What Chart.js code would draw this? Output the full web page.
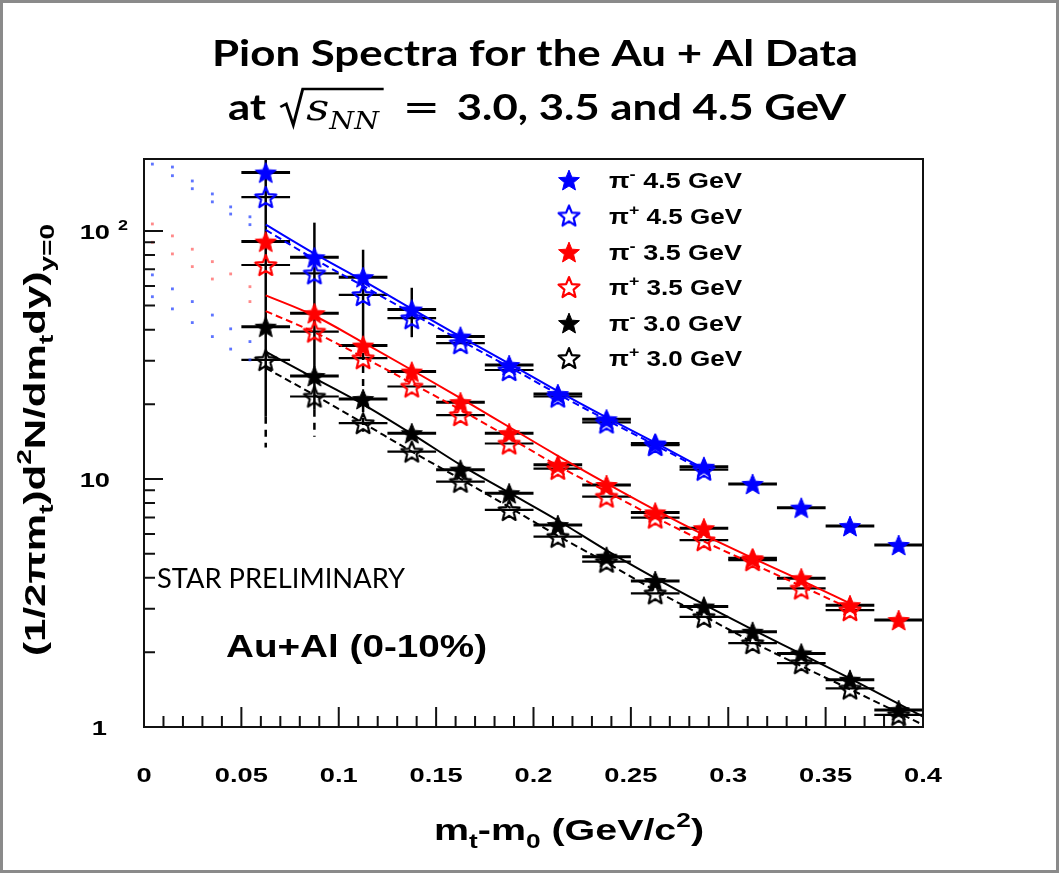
<!DOCTYPE html>
<html lang="en">
<head>
<meta charset="UTF-8">
<title>Pion Spectra for the Au + Al Data</title>
<script src="https://cdn.jsdelivr.net/npm/chart.js"></script>
<style>
  html, body { margin: 0; padding: 0; background: #fff; }
  canvas { display: block; }
</style>
</head>
<body>
<canvas id="spectra" width="1060" height="879"></canvas>
<script>
// m_t - m_0 bin centres (GeV/c^2) and half bin width
const mtX = [0.0625, 0.0875, 0.1125, 0.1375, 0.1625, 0.1875, 0.2125, 0.2375, 0.2625, 0.2875, 0.3125, 0.3375, 0.3625, 0.3875];
const binHalfWidth = 0.0125;

const piMinus45 = [172, 78.3, 65.1, 48.2, 37.5, 28.8, 22.0, 17.4, 13.9, 11.2, 9.55, 7.66, 6.46, 5.42];
const piPlus45  = [137, 67.5, 55.2, 44.5, 35.3, 27.5, 21.5, 16.9, 13.7, 10.9];
const piMinus35 = [90.6, 46.6, 34.5, 27.1, 20.4, 15.3, 11.4, 9.46, 7.33, 6.33, 4.79, 3.98, 3.10, 2.70];
const piPlus35  = [72.9, 39.3, 30.7, 23.6, 18.1, 13.9, 11.0, 8.49, 6.99, 5.67, 4.71, 3.62, 2.96];
const piMinus30 = [41.1, 26.0, 21.0, 15.3, 10.9, 8.76, 6.52, 4.86, 3.88, 3.06, 2.42, 1.98, 1.55, 1.17];
const piPlus30  = [30.2, 21.5, 16.8, 12.9, 9.75, 7.50, 5.85, 4.64, 3.46, 2.78, 2.18, 1.81, 1.43, 1.12];

// fit curves (solid = pi-, dashed = pi+)
const fitX = [0.0625, 0.0875, 0.1125, 0.1375, 0.1625, 0.1875, 0.2125, 0.2375, 0.2625, 0.2875, 0.3125, 0.3375, 0.3625, 0.3875, 0.4];
const fitMinus45 = [106, 81, 63, 48.5, 37.5, 29.2, 22.6, 17.7, 14.0, 11.0];
const fitPlus45  = [101, 77, 60, 46.5, 36.2, 28.3, 22.0, 17.3, 13.7, 10.8];
const fitMinus35 = [55, 45.5, 35.5, 27.5, 21.2, 16.2, 12.4, 9.6, 7.5, 5.95, 4.8, 3.9, 3.15];
const fitPlus35  = [47.5, 39, 31, 24.3, 19.0, 14.7, 11.3, 8.9, 7.0, 5.6, 4.55, 3.7, 3.0];
const fitMinus30 = [32.6, 25.5, 20, 15.2, 11.4, 8.8, 6.8, 5.15, 3.98, 3.12, 2.47, 1.97, 1.57, 1.24, 1.1];
const fitPlus30  = [28, 21.8, 16.8, 12.9, 10.0, 7.7, 5.9, 4.6, 3.55, 2.8, 2.2, 1.76, 1.42, 1.14, 1.02];

// dotted extrapolations below the fit range
const dotX = [0.0043, 0.0146, 0.0248, 0.0351, 0.0445, 0.0544];
const dotBlueA = [null, 181, 159, 141, 125, 114];
const dotBlueB = [186, 167, 148, 131, 117, 106];
const dotBlueC = [66.5, 58.4, 51.9, 45.8, 40.3, 35.8];
const dotBlueD = [54.3, 48.5, 42.7, 37.5, 33.4, 30.2];
const dotRedE  = [106.7, 95.5, 84.4, 75.2, 67.1, 59.6];
const dotRedF  = [90.0, 80.8, 71.8, 64.0, null, 51.9];

// big vertical error bars at low m_t (solid part, then dashed part)
const errX = [0.0625, 0.0875, 0.1125, 0.1375];
const errHigh = [193, 108, 84, 59];
const errSolidLow = [17.8, 19.0, 36.3, 37.3];
const errDashLow = [13.4, 14.8, 15.5, 37.3];

// axes
const xMajorTicks = [0, 0.05, 0.1, 0.15, 0.2, 0.25, 0.3, 0.35, 0.4];
const xTickLabels = ['0', '0.05', '0.1', '0.15', '0.2', '0.25', '0.3', '0.35', '0.4'];
const xMinorStep = 0.01;
const yMajorTicks = [1, 10, 100];
const yTickLabels = ['1', '10', '10'];
const yTickExponents = ['', '', '2'];
const yMinorTicks = [2, 3, 4, 5, 6, 7, 8, 9, 20, 30, 40, 50, 60, 70, 80, 90];

const legendCharge = ['-', '+', '-', '+', '-', '+'];
const legendEnergy = ['4.5 GeV', '4.5 GeV', '3.5 GeV', '3.5 GeV', '3.0 GeV', '3.0 GeV'];

const BLUE = '#0000ff', RED = '#ff0000', BLACK = '#000000';

const series = [
  { values: piMinus45, color: BLUE,  filled: true  },
  { values: piPlus45,  color: BLUE,  filled: false },
  { values: piMinus35, color: RED,   filled: true  },
  { values: piPlus35,  color: RED,   filled: false },
  { values: piMinus30, color: BLACK, filled: true  },
  { values: piPlus30,  color: BLACK, filled: false }
];
const fits = [
  { values: fitMinus45, color: BLUE,  dash: false },
  { values: fitPlus45,  color: BLUE,  dash: true  },
  { values: fitMinus35, color: RED,   dash: false },
  { values: fitPlus35,  color: RED,   dash: true  },
  { values: fitMinus30, color: BLACK, dash: false },
  { values: fitPlus30,  color: BLACK, dash: true  }
];
const dots = [
  { values: dotBlueA, color: 'rgba(40,70,255,0.75)' },
  { values: dotBlueB, color: 'rgba(40,70,255,0.75)' },
  { values: dotBlueC, color: 'rgba(40,70,255,0.75)' },
  { values: dotBlueD, color: 'rgba(40,70,255,0.75)' },
  { values: dotRedE,  color: 'rgba(255,60,60,0.6)' },
  { values: dotRedF,  color: 'rgba(255,60,60,0.6)' }
];

function starCanvas(color, filled, r) {
  const s = Math.ceil(r * 2 + 4);
  const c = document.createElement('canvas');
  c.width = s; c.height = s;
  const g = c.getContext('2d');
  g.translate(s / 2, s / 2 + r * 0.1);
  g.beginPath();
  for (let i = 0; i < 10; i++) {
    const rr = i % 2 ? r * 0.44 : r;
    const a = -Math.PI / 2 + i * Math.PI / 5;
    g.lineTo(rr * Math.cos(a), rr * Math.sin(a));
  }
  g.closePath();
  if (filled) { g.fillStyle = color; g.fill(); g.strokeStyle = color; g.lineWidth = 1; g.stroke(); }
  else { g.strokeStyle = color; g.lineWidth = 2.2; g.lineJoin = 'round'; g.stroke(); }
  return c;
}
series.forEach(s => { s.star = starCanvas(s.color, s.filled, 11); });

// rich text: parts drawn one after another, optionally squeezed/stretched to a width
function richWidth(ctx, parts) {
  let w = 0;
  parts.forEach(p => {
    if (p.gap) { w += p.gap; return; }
    ctx.font = p.font;
    w += ctx.measureText(p.t).width;
  });
  return w;
}
function drawRich(ctx, parts, x, y, align, targetW) {
  const w = richWidth(ctx, parts);
  const sx = targetW ? targetW / w : 1;
  ctx.save();
  ctx.translate(x, y);
  ctx.scale(sx, 1);
  let cx = align === 'center' ? -w / 2 : (align === 'right' ? -w : 0);
  ctx.textAlign = 'left';
  ctx.textBaseline = 'alphabetic';
  parts.forEach(p => {
    if (p.gap) { cx += p.gap; return; }
    ctx.font = p.font;
    ctx.fillText(p.t, cx, p.dy || 0);
    cx += ctx.measureText(p.t).width;
  });
  ctx.restore();
}

const ROOT = '"Liberation Sans", Arial, sans-serif';

function drawTitle(ctx) {
  ctx.fillStyle = '#000';
  drawRich(ctx, [{ t: 'Pion Spectra for the Au + Al Data', font: 'bold 37px Lato' }], 535, 66, 'center', 646);

  const F = 'bold 37px Lato';
  const M = 'italic 38px "DejaVu Serif"';
  const MS = 'italic 24px "DejaVu Serif"';
  const EQ = '38px "DejaVu Serif"';
  const parts = [
    { t: 'at', font: F }, { gap: 12 }, { gap: 22 }, { t: 's', font: M }, { t: 'NN', font: MS, dy: 9 },
    { gap: 20 }, { t: '=', font: EQ }, { gap: 14 }, { t: '3.0, 3.5 and 4.5 GeV', font: F }
  ];
  const w = richWidth(ctx, parts);
  const sx = 618 / w;
  const base = 120;
  ctx.save();
  ctx.translate(228, base);
  ctx.scale(sx, 1);
  let cx = 0, radStart = 0, radEnd = 0;
  parts.forEach((p, i) => {
    if (p.gap) {
      if (i === 2) radStart = cx;
      cx += p.gap; return;
    }
    ctx.font = p.font;
    ctx.fillText(p.t, cx, p.dy || 0);
    cx += ctx.measureText(p.t).width;
    if (p.t === 'NN') radEnd = cx + 4;
  });
  ctx.strokeStyle = '#000';
  ctx.lineWidth = 2.5;
  ctx.lineJoin = 'miter';
  ctx.beginPath();
  ctx.moveTo(radStart, -13);
  ctx.lineTo(radStart + 5, -16);
  ctx.lineTo(radStart + 11, 5);
  ctx.lineTo(radStart + 19, -31);
  ctx.lineTo(radEnd, -31);
  ctx.stroke();
  ctx.restore();
}

const decor = {
  id: 'decor',
  beforeDraw(chart) {
    const ctx = chart.ctx;
    ctx.save();
    ctx.fillStyle = '#fff';
    ctx.fillRect(0, 0, chart.width, chart.height);
    ctx.strokeStyle = '#8a8a8a';
    ctx.lineWidth = 3;
    ctx.strokeRect(1.5, 1.5, chart.width - 4, 870);
    ctx.restore();
  },
  beforeDatasetsDraw(chart) {
    const { ctx, chartArea: a, scales: { x, y } } = chart;
    ctx.save();
    ctx.beginPath();
    ctx.rect(a.left, a.top, a.right - a.left, a.bottom - a.top);
    ctx.clip();
    ctx.strokeStyle = '#000';
    ctx.lineWidth = 2.5;
    errX.forEach((v, i) => {
      const px = x.getPixelForValue(v);
      ctx.setLineDash([]);
      ctx.beginPath();
      ctx.moveTo(px, y.getPixelForValue(errHigh[i]));
      ctx.lineTo(px, y.getPixelForValue(errSolidLow[i]));
      ctx.stroke();
      ctx.setLineDash([7, 6]);
      ctx.beginPath();
      ctx.moveTo(px, y.getPixelForValue(errSolidLow[i]));
      ctx.lineTo(px, y.getPixelForValue(errDashLow[i]));
      ctx.stroke();
    });
    ctx.setLineDash([]);
    series.forEach(s => {
      ctx.lineWidth = s.filled ? 3 : 2.2;
      s.values.forEach((v, i) => {
        const py = y.getPixelForValue(v);
        ctx.beginPath();
        ctx.moveTo(x.getPixelForValue(mtX[i] - binHalfWidth), py);
        ctx.lineTo(x.getPixelForValue(mtX[i] + binHalfWidth), py);
        ctx.stroke();
      });
    });
    ctx.restore();
  },
  afterDatasetsDraw(chart) {
    const { ctx, chartArea: a, scales: { x, y } } = chart;
    ctx.save();
    ctx.strokeStyle = '#111';
    ctx.fillStyle = '#000';
    ctx.lineWidth = 2;
    ctx.strokeRect(a.left, a.top, a.right - a.left, a.bottom - a.top);

    // inward ticks
    ctx.beginPath();
    xMajorTicks.forEach(v => {
      const px = x.getPixelForValue(v);
      ctx.moveTo(px, a.bottom); ctx.lineTo(px, a.bottom - 20);
    });
    for (let k = 1; k * xMinorStep < 0.4 - 1e-9; k++) {
      if (k % 5 === 0) continue;
      const px = x.getPixelForValue(k * xMinorStep);
      ctx.moveTo(px, a.bottom); ctx.lineTo(px, a.bottom - 11);
    }
    yMajorTicks.forEach(v => {
      const py = y.getPixelForValue(v);
      ctx.moveTo(a.left, py); ctx.lineTo(a.left + 19, py);
    });
    yMinorTicks.forEach(v => {
      const py = y.getPixelForValue(v);
      ctx.moveTo(a.left, py); ctx.lineTo(a.left + 11, py);
    });
    ctx.stroke();

    // tick labels
    const TF = 'bold 21px ' + ROOT;
    xMajorTicks.forEach((v, i) => {
      ctx.font = TF;
      const w = ctx.measureText(xTickLabels[i]).width;
      drawRich(ctx, [{ t: xTickLabels[i], font: TF }], x.getPixelForValue(v), 782, 'center', w * 1.3);
    });
    yMajorTicks.forEach((v, i) => {
      const py = y.getPixelForValue(v) + 8;
      ctx.font = TF;
      const w = ctx.measureText(yTickLabels[i]).width * 1.3;
      const right = yTickLabels[i] === '1' ? 107 : 110;
      drawRich(ctx, [{ t: yTickLabels[i], font: TF }], right - w, py, 'left', w);
      if (yTickExponents[i]) {
        drawRich(ctx, [{ t: yTickExponents[i], font: 'bold 15px ' + ROOT }], 118, py - 9, 'left', 10);
      }
    });

    // axis titles
    const AF = 'bold 30px ' + ROOT, AS = 'bold 20px ' + ROOT;
    drawRich(ctx, [
      { t: 'm', font: AF }, { t: 't', font: AS, dy: 8 }, { t: '-m', font: AF }, { t: '0', font: AS, dy: 8 },
      { t: ' (GeV/c', font: AF }, { t: '2', font: AS, dy: -13 }, { t: ')', font: AF }
    ], 569, 840, 'center', 270);

    ctx.save();
    ctx.translate(45, 440);
    ctx.rotate(-Math.PI / 2);
    const YF = 'bold 30px ' + ROOT, YS = 'bold 20px ' + ROOT;
    drawRich(ctx, [
      { t: '(1/2\u03c0m', font: YF }, { t: 't', font: YS, dy: 8 }, { t: ')d', font: YF }, { t: '2', font: YS, dy: -14 },
      { t: 'N/dm', font: YF }, { t: 't', font: YS, dy: 8 }, { t: 'dy)', font: YF }, { t: 'y=0', font: YS, dy: 9 }
    ], 0, 0, 'center', 432);
    ctx.restore();

    // legend
    const LF = 'bold 22px ' + ROOT, LS = 'bold 15px ' + ROOT;
    const rowY = [180, 215.5, 252, 287, 323, 358];
    series.forEach((s, i) => {
      ctx.drawImage(s.star, 569 - s.star.width / 2, rowY[i] - s.star.height / 2);
      const parts = [{ t: '\u03c0', font: LF }, { t: legendCharge[i], font: LS, dy: -9 }, { t: ' ' + legendEnergy[i], font: LF }];
      drawRich(ctx, parts, 609, rowY[i] + 8, 'left', 133);
    });

    // annotations
    drawRich(ctx, [{ t: 'STAR PRELIMINARY', font: '27px Lato' }], 157, 588, 'left', 248);
    drawRich(ctx, [{ t: 'Au+Al (0-10%)', font: 'bold 32px ' + ROOT }], 226, 657, 'left', 261);
    ctx.restore();
  },
  afterDraw(chart) {
    const ctx = chart.ctx;
    ctx.save();
    drawTitle(ctx);
    ctx.restore();
  }
};

const datasets = [];
series.forEach(s => datasets.push({
  data: s.values.map((v, i) => ({ x: mtX[i], y: v })),
  showLine: false,
  pointStyle: s.star,
  pointRadius: 11,
  order: 0
}));
fits.forEach(f => datasets.push({
  data: f.values.map((v, i) => ({ x: fitX[i], y: v })),
  showLine: true,
  borderColor: f.color,
  borderWidth: 2,
  borderDash: f.dash ? [7, 4] : [],
  pointRadius: 0,
  cubicInterpolationMode: 'monotone',
  fill: false,
  order: 1
}));
dots.forEach(d => datasets.push({
  data: d.values.map((v, i) => ({ x: dotX[i], y: v })),
  showLine: false,
  pointStyle: 'rect',
  pointRadius: 2,
  backgroundColor: d.color,
  borderWidth: 0,
  order: 2
}));

new Chart(document.getElementById('spectra'), {
  type: 'scatter',
  data: { datasets: datasets },
  options: {
    responsive: false,
    animation: false,
    devicePixelRatio: 1,
    layout: { padding: { left: 144, right: 137, top: 159, bottom: 152 } },
    plugins: { legend: { display: false }, tooltip: { enabled: false } },
    scales: {
      x: { type: 'linear', min: 0, max: 0.4, display: false },
      y: { type: 'logarithmic', min: 1, max: 195, display: false }
    }
  },
  plugins: [decor]
});
</script>
</body>
</html>
